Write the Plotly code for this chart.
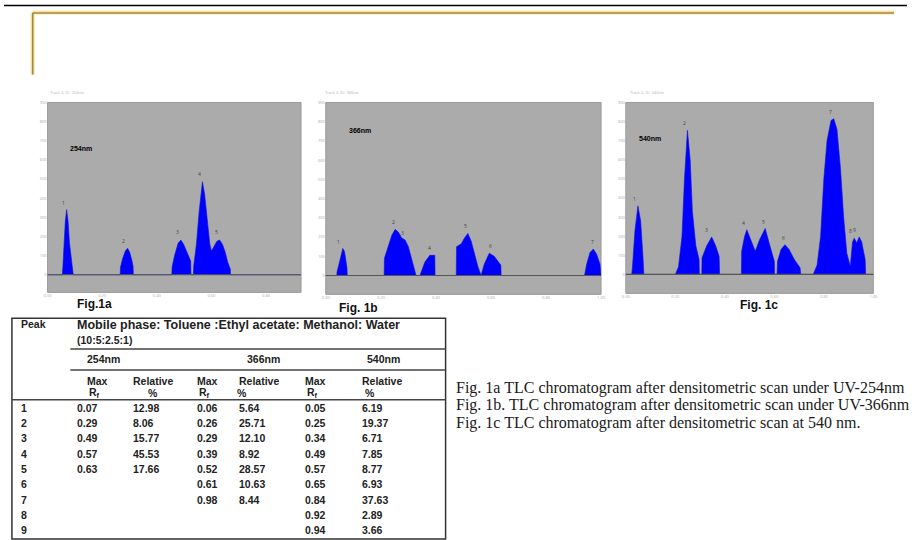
import plotly.graph_objects as go

W, H = 912, 540

# ---------------- chromatogram data (Rf, AU) ----------------
rf_a = [0.000, 0.054, 0.056, 0.060, 0.065, 0.070, 0.075, 0.080, 0.086, 0.092, 0.094,
        0.266, 0.267, 0.275, 0.285, 0.293, 0.300, 0.308, 0.313, 0.314,
        0.455, 0.456, 0.465, 0.478, 0.488, 0.498, 0.510, 0.524, 0.525,
        0.534, 0.535, 0.545, 0.555, 0.567, 0.575, 0.585, 0.594, 0.600,
        0.610, 0.620, 0.630, 0.640, 0.650, 0.660, 0.669, 0.670, 0.928]
au_a = [0, 0, 40, 150, 280, 340, 280, 170, 80, 30, 0,
        0, 40, 85, 125, 138, 120, 80, 45, 0,
        0, 40, 100, 165, 181, 160, 120, 72, 0,
        0, 45, 160, 330, 486, 420, 270, 160, 124,
        150, 175, 181, 160, 120, 64, 30, 0, 0]

rf_b = [0.000, 0.040, 0.041, 0.050, 0.058, 0.062, 0.068, 0.074, 0.077, 0.078,
        0.212, 0.213, 0.224, 0.240, 0.252, 0.264, 0.276, 0.288, 0.300, 0.312, 0.328,
        0.342, 0.360, 0.378, 0.390, 0.396, 0.397,
        0.474, 0.475, 0.492, 0.504, 0.516, 0.528, 0.540, 0.552, 0.564,
        0.576, 0.594, 0.612, 0.630, 0.636, 0.637,
        0.940, 0.948, 0.960, 0.972, 0.984, 0.996, 0.999, 1.000]
au_b = [0, 0, 20, 70, 130, 141, 125, 80, 40, 0,
        0, 90, 140, 210, 240, 225, 195, 185, 150, 80, 0,
        0, 70, 105, 107, 105, 0,
        0, 150, 165, 195, 219, 180, 110, 50, 0,
        60, 116, 100, 65, 55, 0,
        0, 60, 120, 138, 110, 60, 0, 0]

rf_c = [0.000, 0.024, 0.027, 0.037, 0.049, 0.060, 0.069, 0.073,
        0.200, 0.213, 0.227, 0.237, 0.249, 0.260, 0.269, 0.283, 0.296, 0.297,
        0.307, 0.308, 0.327, 0.347, 0.363, 0.377, 0.379,
        0.467, 0.468, 0.480, 0.489, 0.507, 0.523, 0.540, 0.563, 0.580, 0.600, 0.601,
        0.611, 0.613, 0.627, 0.643, 0.660, 0.680, 0.704, 0.707,
        0.757, 0.773, 0.787, 0.800, 0.813, 0.829, 0.840, 0.853, 0.867, 0.880, 0.893, 0.907,
        0.916, 0.923, 0.933, 0.943, 0.953, 0.967, 0.969, 1.000]
au_c = [0, 0, 40, 230, 359, 280, 100, 0,
        0, 40, 200, 500, 754, 600, 330, 150, 78, 0,
        0, 87, 150, 196, 150, 95, 0,
        0, 121, 200, 234, 170, 121, 180, 241, 160, 69, 0,
        0, 69, 130, 156, 130, 80, 35, 0,
        0, 50, 200, 500, 700, 805, 815, 760, 560, 300, 110, 43,
        170, 190, 165, 196, 170, 78, 0, 0]

# peak label heights
lab_a = [350, 150, 195, 500, 195]
lab_b = [150, 250, 195, 115, 230, 125, 150]
lab_c = [370, 765, 205, 245, 250, 165, 825, 200, 205]

panel_ids = ["254nm", "366nm", "540nm"]
fig_labels = ["Fig.1a", "Fig. 1b", "Fig. 1c"]
track_titles = ["Track 4, ID: 254nm", "Track 4, ID: 366nm", "Track 4, ID: 540nm"]

# ---------------- table data ----------------
peaks = ["1", "2", "3", "4", "5", "6", "7", "8", "9"]
rf254 = ["0.07", "0.29", "0.49", "0.57", "0.63", "", "", "", ""]
rel254 = ["12.98", "8.06", "15.77", "45.53", "17.66", "", "", "", ""]
rf366 = ["0.06", "0.26", "0.29", "0.39", "0.52", "0.61", "0.98", "", ""]
rel366 = ["5.64", "25.71", "12.10", "8.92", "28.57", "10.63", "8.44", "", ""]
rf540 = ["0.05", "0.25", "0.34", "0.49", "0.57", "0.65", "0.84", "0.92", "0.94"]
rel540 = ["6.19", "19.37", "6.71", "7.85", "8.77", "6.93", "37.63", "2.89", "3.66"]

captions = [
    "Fig. 1a TLC chromatogram after densitometric scan under UV-254nm",
    "Fig. 1b. TLC chromatogram after densitometric scan under UV-366nm",
    "Fig. 1c TLC chromatogram after densitometric scan at 540 nm.",
]


def px(x):
    return x / W


def py(y):
    return 1 - y / H


fig = go.Figure()

panels = [
    dict(rf=rf_a, au=au_a, xd=(44, 300), yd=(100, 291), xr=[0, 0.928], yr=[-92, 900],
         labx=[float(v) for v in rf254[:5]], laby=lab_a),
    dict(rf=rf_b, au=au_b, xd=(325, 603), yd=(100, 293), xr=[0, 1.0], yr=[-98, 900],
         labx=[float(v) for v in rf366[:7]], laby=lab_b),
    dict(rf=rf_c, au=au_c, xd=(628, 878), yd=(100, 292), xr=[0, 1.0], yr=[-99, 900],
         labx=[float(v) for v in rf540], laby=lab_c),
]

annotations = []
shapes = []
GRAY = "#ababab"

for i, p in enumerate(panels):
    sfx = "" if i == 0 else str(i + 1)
    xa, ya = "x" + sfx, "y" + sfx
    # gray background
    shapes.append(dict(type="rect", xref=xa + " domain", yref=ya + " domain",
                       x0=0, x1=1, y0=0, y1=1, fillcolor=GRAY,
                       line=dict(color="#9a9a9a", width=1), layer="below"))
    fig.add_trace(go.Scatter(x=p["rf"], y=p["au"], mode="lines", fill="tozeroy",
                             fillcolor="#0000ff", line=dict(color="#1010d0", width=0.6),
                             xaxis=xa, yaxis=ya, hoverinfo="skip", showlegend=False))
    # baseline
    shapes.append(dict(type="line", xref=xa + " domain", yref=ya, x0=0, x1=1, y0=0, y1=0,
                       line=dict(color="#555", width=1.2), layer="above"))
    # peak number labels
    for k, (lx, ly) in enumerate(zip(p["labx"], p["laby"])):
        annotations.append(dict(x=lx, y=ly, xref=xa, yref=ya, text=str(k + 1),
                                showarrow=False, font=dict(size=5, color="#444"),
                                xanchor="right", yanchor="bottom"))
    axx = dict(domain=[px(p["xd"][0]), px(p["xd"][1])], range=p["xr"], anchor=ya,
               showgrid=False, zeroline=False, showline=False,
               tickvals=[0, 0.2, 0.4, 0.6, 0.8, 1.0],
               ticktext=["0.00", "0.20", "0.40", "0.60", "0.80", "1.00"],
               tickfont=dict(size=4, color="#aaa"), ticks="", ticklen=0)
    axy = dict(domain=[py(p["yd"][1]), py(p["yd"][0])], range=p["yr"], anchor=xa,
               showgrid=False, zeroline=False,
               showline=False, tickvals=list(range(0, 1000, 100)),
               tickfont=dict(size=4, color="#aaa"), ticks="")
    fig.layout["xaxis" + sfx] = axx
    fig.layout["yaxis" + sfx] = axy

# panel inner labels
for (cx, cy), t in zip([(78, 146), (360, 128), (652, 136)], panel_ids):
    annotations.append(dict(x=px(cx), y=py(cy), xref="paper", yref="paper", text="<b>" + t + "</b>",
                            showarrow=False, xanchor="center", yanchor="middle",
                            font=dict(size=7, color="#000", family="Liberation Sans")))
# tiny titles
for (cx, cy), t in zip([(44, 90), (322, 90), (630, 90)], track_titles):
    annotations.append(dict(x=px(cx), y=py(cy), xref="paper", yref="paper", text=t,
                            showarrow=False, xanchor="left", yanchor="middle",
                            font=dict(size=4, color="#bbb", family="Liberation Sans")))
# Fig labels
for (cx, cy), t in zip([(91, 303), (358, 307), (763, 304)], fig_labels):
    annotations.append(dict(x=px(cx), y=py(cy), xref="paper", yref="paper", text="<b>" + t + "</b>",
                            showarrow=False, xanchor="center", yanchor="middle",
                            font=dict(size=12, color="#111", family="Liberation Sans")))

# ---------------- slide frame ----------------
def pline(x0, y0, x1, y1, color, width):
    shapes.append(dict(type="line", xref="paper", yref="paper", x0=px(x0), y0=py(y0),
                       x1=px(x1), y1=py(y1), line=dict(color=color, width=width)))

pline(0, 2.5, 912, 2.5, "#000", 1.5)
pline(29, 9.5, 899, 9.5, "#f3e7a8", 4)
pline(29, 9.5, 29, 72, "#f3e7a8", 4)
pline(29, 10, 899, 10, "#a8893e", 1.6)
pline(29, 10, 29, 72, "#a8893e", 1.6)

# ---------------- table ----------------
TL, TT, TR, TB = 8, 317, 446, 539
shapes.append(dict(type="rect", xref="paper", yref="paper", x0=px(TL), y0=py(TB),
                   x1=px(TR), y1=py(TT), line=dict(color="#333", width=1.5)))
pline(67, 348, TR, 348, "#444", 1.5)
pline(67, 369, TR, 369, "#444", 1.5)
pline(TL, 399, TR, 399, "#444", 1.5)

TF = "Liberation Sans"


def ttext(x, y, t, size=10.5, anchor="left"):
    annotations.append(dict(x=px(x), y=py(y), xref="paper", yref="paper", text="<b>" + t + "</b>",
                            showarrow=False, xanchor=anchor, yanchor="middle",
                            font=dict(size=size, color="#222", family=TF)))


ttext(15, 323, "Peak")
ttext(72, 324, "Mobile phase: Toluene :Ethyl acetate: Methanol: Water", size=12.5)
ttext(72, 339, "(10:5:2.5:1)")
ttext(100, 358, "254nm", anchor="center")
ttext(262, 358, "366nm", anchor="center")
ttext(383, 358, "540nm", anchor="center")
for cx in [82, 193, 302]:
    ttext(cx, 380, "Max")
    ttext(cx + 2, 392, "R<sub>f</sub>")
for cx in [128, 235, 360]:
    ttext(cx, 380, "Relative")
for cx in [150, 240, 370]:
    ttext(cx, 392, "%", anchor="center")

cols = [(15, peaks), (72, rf254), (128, rel254), (193, rf366), (235, rel366), (302, rf540), (360, rel540)]
for r in range(len(peaks)):
    y = 407 + r * 15.4
    for cx, arr in cols:
        if arr[r]:
            ttext(cx, y, arr[r])

# ---------------- captions ----------------
for k, c in enumerate(captions):
    annotations.append(dict(x=px(454), y=py(387 + k * 17.5), xref="paper", yref="paper", text=c,
                            showarrow=False, xanchor="left", yanchor="middle",
                            font=dict(size=16, color="#1a1a1a", family="Liberation Serif")))

fig.update_layout(width=W, height=H, margin=dict(l=0, r=0, t=0, b=0),
                  paper_bgcolor="white", plot_bgcolor="rgba(0,0,0,0)",
                  annotations=annotations, shapes=shapes, showlegend=False)

fig.write_html("out.html")
